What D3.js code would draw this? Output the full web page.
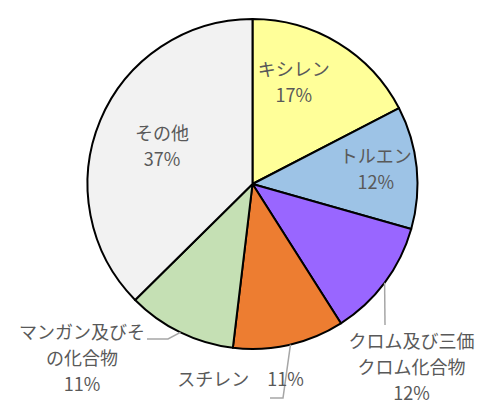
<!DOCTYPE html>
<html>
<head>
<meta charset="utf-8">
<script src="https://cdn.jsdelivr.net/npm/d3@7"></script>
<style>
  html, body { margin: 0; padding: 0; background: #fff; }
  .chart { width: 490px; height: 413px; }
  text { font-family: "Noto Sans CJK JP", "Noto Sans", sans-serif; fill: #595959; }
</style>
</head>
<body>
<div class="chart"></div>
<script>
// données (en %)
const categories = ["キシレン", "トルエン", "クロム及び三価クロム化合物", "スチレン", "マンガン及びその化合物", "その他"];
const values = [17.4, 12.0, 11.6, 10.9, 10.7, 37.4];
const labelLines = [
  ["キシレン"],
  ["トルエン"],
  ["クロム及び三価", "クロム化合物"],
  ["スチレン　11%"],
  ["マンガン及びそ", "の化合物"],
  ["その他"]
];
const colors = ["#FFFF99", "#9DC3E6", "#9966FF", "#ED7D31", "#C5E0B4", "#F2F2F2"];

// position des étiquettes : angle (deg) et rayon depuis le centre
const labelPlace = [
  [22.3, 109], [83.5, 124], [139.1, 243], [183.5, 196], [224.3, 244], [292.5, 98]
];
// lignes de rappel : angle sur le bord puis points relatifs au centre
const leaders = [
  null, null,
  { angle: 126.8, pts: [[132.5, 141]] },
  { angle: 166.7, pts: [[30.5, 214], [17.5, 214]] },
  { angle: 205.9, pts: [[-84.5, 155], [-105.5, 155]] },
  null
];

const width = 490, height = 413;
const cx = 252.5, cy = 184, radius = 165;
const fontSize = 18, lineH = 26;

const svg = d3.select('.chart').append('svg')
    .attr('width', width)
    .attr('height', height)
    .attr('viewBox', `0 0 ${width} ${height}`);

const data = categories.map((c, i) => ({ name: c, value: values[i], i }));
const total = d3.sum(values);

const pie = d3.pie().value(d => d.value).sort(null);
const arc = d3.arc().innerRadius(0).outerRadius(radius);

const g = svg.append('g').attr('transform', `translate(${cx},${cy})`);

g.selectAll('path')
    .data(pie(data))
    .join('path')
    .attr('d', arc)
    .attr('fill', d => colors[d.data.i])
    .attr('stroke', '#000')
    .attr('stroke-width', 2)
    .attr('stroke-linejoin', 'round');

// lignes de rappel
leaders.forEach(l => {
    if (!l) return;
    const start = d3.pointRadial(l.angle * Math.PI / 180, radius);
    g.append('polyline')
        .attr('points', [start, ...l.pts].map(p => p.join(',')).join(' '))
        .attr('fill', 'none')
        .attr('stroke', '#A6A6A6')
        .attr('stroke-width', 1.5);
});

// étiquettes
data.forEach((d, i) => {
    const [a, r] = labelPlace[i];
    const [x, y] = d3.pointRadial(a * Math.PI / 180, r);
    const pct = Math.round(d.value / total * 100) + '%';
    const lines = labelLines[i].length === 1 && labelLines[i][0].includes('%')
        ? labelLines[i] : [...labelLines[i], pct];
    const t = g.append('text')
        .attr('text-anchor', 'middle')
        .attr('font-size', fontSize)
        .attr('xml:space', 'preserve')
        .style('white-space', 'pre');
    const y0 = y - (lines.length - 1) * lineH / 2;
    lines.forEach((s, k) => {
        t.append('tspan')
            .attr('x', x)
            .attr('y', y0 + k * lineH)
            .attr('dy', '0.35em')
            .text(s);
    });
});
</script>
</body>
</html>
